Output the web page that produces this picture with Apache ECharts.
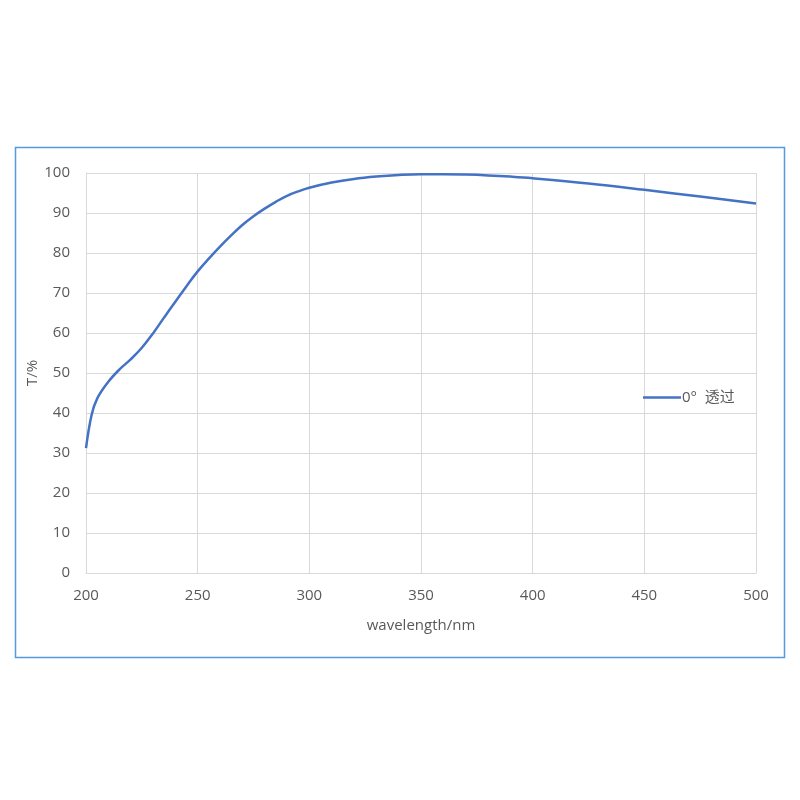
<!DOCTYPE html>
<html><head><meta charset="utf-8">
<script src="https://cdn.jsdelivr.net/npm/echarts@6/dist/echarts.min.js"></script>
<style>html,body{margin:0;padding:0;background:#fff}#c{width:800px;height:800px}</style>
</head><body><div id="c"></div>
<script>
const wavelength = [200, 202.5, 205, 210, 215, 220, 225, 230, 235, 240, 245, 250, 255, 260, 265, 270, 275, 280, 285, 290, 295, 300, 310, 320, 330, 340, 350, 360, 370, 380, 390, 400, 425, 450, 475, 500];
const transmission = [31.2, 39.5, 43.6, 47.8, 50.9, 53.4, 56.3, 59.9, 63.9, 67.8, 71.7, 75.4, 78.6, 81.6, 84.4, 87, 89.2, 91.1, 92.8, 94.3, 95.4, 96.3, 97.6, 98.5, 99.1, 99.5, 99.7, 99.7, 99.6, 99.4, 99.1, 98.7, 97.4, 95.8, 94.1, 92.4];
const seriesName = '0°  透过';
const xTitle = 'wavelength/nm';
const yTitle = 'T/%';

const chart = echarts.init(document.getElementById('c'));
const font = "'Open Sans','Noto Sans CJK SC',sans-serif";
chart.setOption({
  animation: false,
  graphic: [{
    type: 'rect', shape: {x: 15.5, y: 147.5, width: 769, height: 510},
    style: {fill: 'none', stroke: '#5599e0', lineWidth: 1.5}
  }],
  grid: {left: 86, right: 44, top: 173, bottom: 227},
  legend: {
    data: [seriesName], left: 643, top: 390, padding: 0, icon: 'rect', itemWidth: 38, itemHeight: 2.5, itemGap: 0,
    textStyle: {color: '#595959', fontSize: 15, fontFamily: font, padding: [0,0,0,-4]}
  },
  xAxis: {
    type: 'value', min: 200, max: 500, interval: 50,
    name: xTitle, nameLocation: 'middle', nameGap: 45, nameMoveOverlap: false,
    nameTextStyle: {color: '#595959', fontSize: 15, fontFamily: font},
    axisLine: {show: true, lineStyle: {color: '#d9d9d9'}},
    axisTick: {show: false},
    axisLabel: {color: '#595959', fontSize: 15, fontFamily: font, margin: 15},
    splitLine: {show: true, lineStyle: {color: '#d9d9d9'}}
  },
  yAxis: {
    type: 'value', min: 0, max: 100, interval: 10,
    name: yTitle, nameLocation: 'middle', nameGap: 46, nameRotate: 90, nameMoveOverlap: false,
    nameTextStyle: {color: '#595959', fontSize: 15, fontFamily: font},
    axisLine: {show: true, lineStyle: {color: '#d9d9d9'}},
    axisTick: {show: false},
    axisLabel: {color: '#595959', fontSize: 15, fontFamily: font, margin: 16},
    splitLine: {show: true, lineStyle: {color: '#d9d9d9'}}
  },
  series: [{
    name: seriesName, type: 'line', smooth: 0.4, showSymbol: false, symbol: 'none',
    data: wavelength.map((w, i) => [w, transmission[i]]),
    lineStyle: {color: '#4472c4', width: 2.5},
    itemStyle: {color: '#4472c4'}
  }]
});
</script></body></html>
